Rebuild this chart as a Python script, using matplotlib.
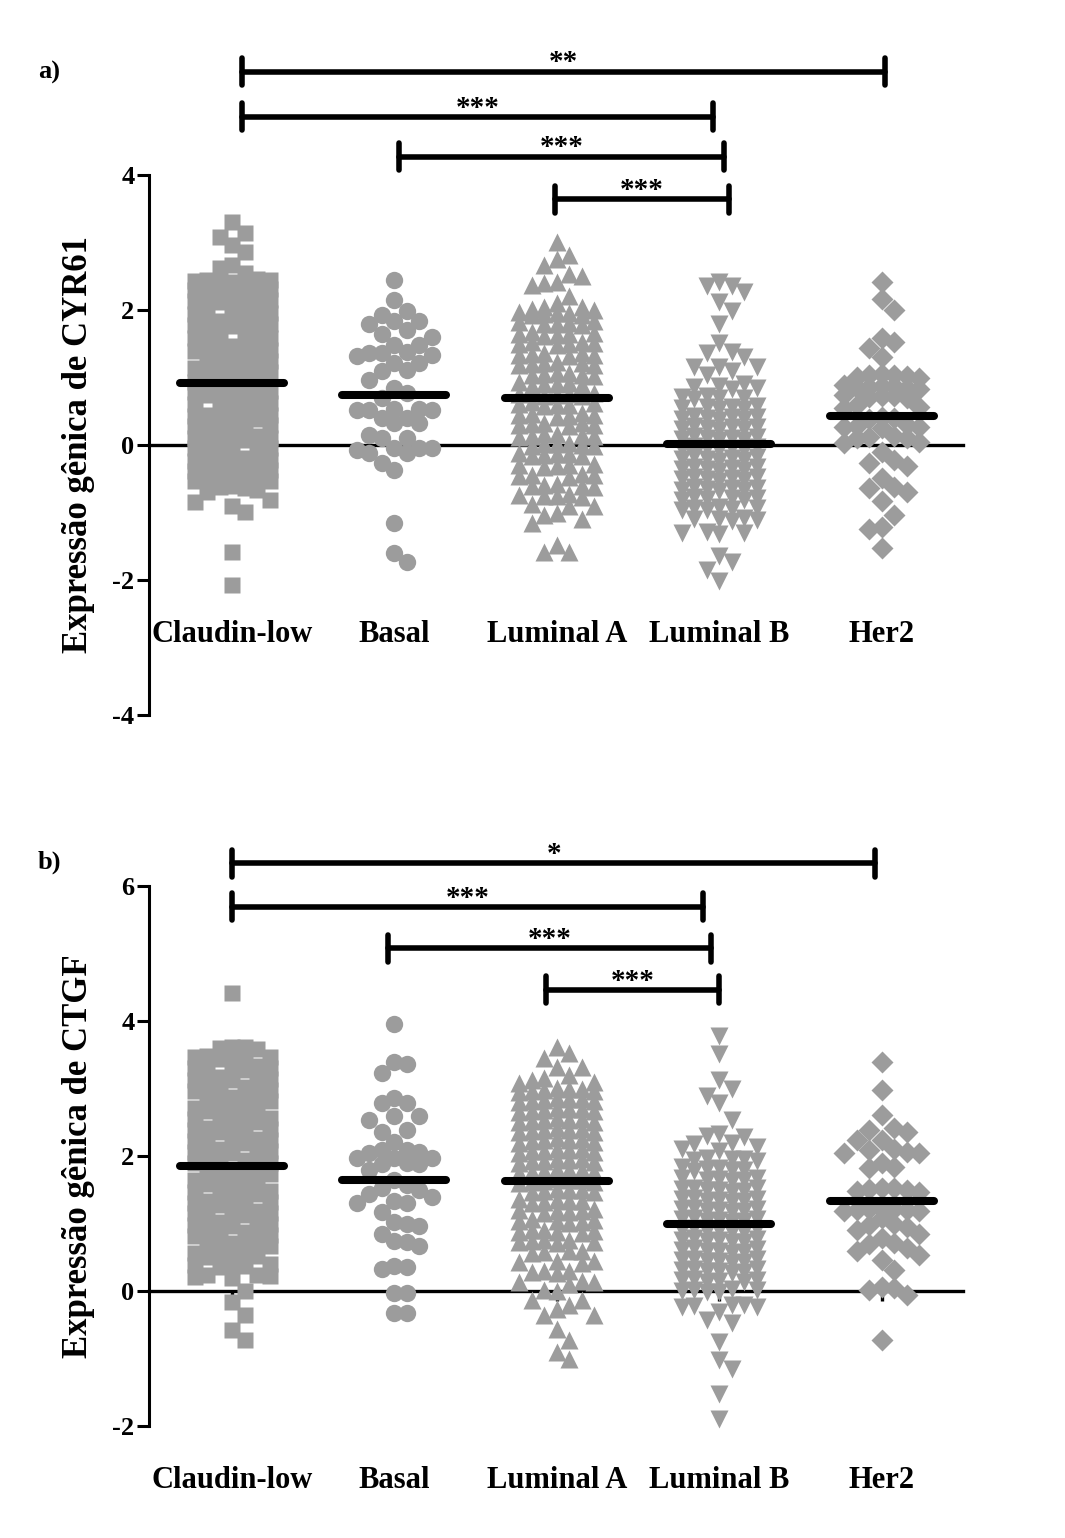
import numpy as np
import matplotlib
matplotlib.use('Agg')
import matplotlib.pyplot as plt
from matplotlib import transforms

plt.rcParams['font.family'] = ['Liberation Serif', 'DejaVu Serif']
plt.rcParams['font.weight'] = 'bold'
plt.rcParams['axes.unicode_minus'] = False

groups = ['Claudin-low', 'Basal', 'Luminal A', 'Luminal B', 'Her2']
markers = ['s', 'o', '^', 'v', 'D']

# CYR61 (panel a)
cyr61_claudin = [
    3.31, 3.14, 3.08, 2.96, 2.86, 2.67, 2.62, 2.55, 2.46,
    2.44, 2.42, 2.45, 2.40, 2.43, 2.39,
    2.31, 2.29, 2.33, 2.27, 2.30, 2.32,
    2.15, 2.17, 2.13, 2.16, 2.12, 2.18, 2.14,
    1.96, 1.94, 1.98, 1.92, 1.95, 1.97,
    1.81, 1.79, 1.83, 1.78, 1.80, 1.82, 1.77,
    1.61, 1.59, 1.63, 1.58, 1.60, 1.62,
    1.44, 1.42, 1.46, 1.41, 1.43, 1.45, 1.40,
    1.27, 1.25, 1.29, 1.24, 1.26, 1.28,
    1.12, 1.10, 1.14, 1.09, 1.11, 1.13, 1.08,
    0.92, 0.90, 0.94, 0.89, 0.91, 0.93,
    0.78, 0.76, 0.80, 0.75, 0.77, 0.79, 0.74,
    0.60, 0.58, 0.62, 0.57, 0.59, 0.61,
    0.43, 0.41, 0.45, 0.40, 0.42, 0.44, 0.39,
    0.28, 0.26, 0.30, 0.25, 0.27, 0.29,
    0.11, 0.09, 0.13, 0.08, 0.10, 0.12, 0.07,
    -0.04, -0.06, -0.02, -0.07, -0.05, -0.03,
    -0.21, -0.23, -0.19, -0.24, -0.22, -0.20, -0.25,
    -0.30, -0.36, -0.38, -0.34, -0.39, -0.37, -0.45,
    -0.51, -0.53, -0.49, -0.54, -0.52, -0.60,
    -0.62, -0.64, -0.66, -0.70, -0.81, -0.85, -0.91, -0.99, -1.58, -2.08]
cyr61_basal = [
    2.44, 2.15, 1.99, 1.93, 1.83, 1.80, 1.83, 1.70, 1.64, 1.60, 1.48, 1.48,
    1.38, 1.36, 1.36, 1.33, 1.32, 1.21, 1.21, 1.11, 1.09, 0.96, 0.84, 0.77,
    0.69, 0.54, 0.54, 0.52, 0.52, 0.52, 0.40, 0.40, 0.33, 0.33, 0.15, 0.11,
    0.11, -0.05, -0.05, -0.05, -0.07, -0.12, -0.12, -0.27, -0.37, -1.15,
    -1.60, -1.74]
cyr61_luma = [
    3.01, 2.81, 2.75, 2.67, 2.54, 2.50, 2.42, 2.37, 2.40, 2.21, 2.11, 2.04,
    2.04, 2.02, 2.00,
    1.95, 1.93, 1.97, 1.94, 1.96, 1.92,
    1.80, 1.82, 1.78, 1.81, 1.79, 1.83,
    1.65, 1.63, 1.67, 1.64, 1.66, 1.62,
    1.50, 1.52, 1.48, 1.51, 1.49, 1.53,
    1.35, 1.33, 1.37, 1.34, 1.36, 1.32,
    1.20, 1.22, 1.18, 1.21, 1.19, 1.23,
    1.05, 1.03, 1.07, 1.04, 1.06, 1.02,
    0.90, 0.92, 0.88, 0.91, 0.89, 0.93,
    0.75, 0.73, 0.77, 0.74, 0.76, 0.72,
    0.60, 0.62, 0.58, 0.61, 0.59, 0.63,
    0.45, 0.43, 0.47, 0.44, 0.46, 0.42,
    0.30, 0.32, 0.28, 0.31, 0.29, 0.33,
    0.15, 0.13, 0.17, 0.14, 0.16, 0.12,
    0.00, 0.02, -0.02, 0.01, -0.01, 0.03,
    -0.15, -0.13, -0.17, -0.14, -0.16, -0.12,
    -0.30, -0.32, -0.28, -0.31, -0.29,
    -0.45, -0.43, -0.47, -0.44, -0.46,
    -0.60, -0.62, -0.58, -0.61, -0.59,
    -0.75, -0.73, -0.77, -0.74, -0.76,
    -0.87, -0.91, -0.91, -1.01, -1.04, -1.09, -1.16, -1.48, -1.58, -1.58]
cyr61_lumb = [
    2.42, 2.36, 2.35, 2.27, 2.12, 1.98, 1.80, 1.51, 1.38, 1.36, 1.31, 1.16,
    1.16, 1.15, 1.09, 1.04, 0.91,
    0.85, 0.87, 0.83, 0.86,
    0.70, 0.72, 0.68, 0.71, 0.69,
    0.55, 0.57, 0.53, 0.56, 0.54, 0.58,
    0.40, 0.42, 0.38, 0.41, 0.39, 0.43, 0.37,
    0.25, 0.27, 0.23, 0.26, 0.24, 0.28, 0.22,
    0.10, 0.12, 0.08, 0.11, 0.09, 0.13, 0.07,
    -0.05, -0.03, -0.07, -0.04, -0.06, -0.02, -0.08,
    -0.20, -0.18, -0.22, -0.19, -0.21, -0.17, -0.23,
    -0.35, -0.33, -0.37, -0.34, -0.36, -0.32, -0.38,
    -0.50, -0.48, -0.52, -0.49, -0.51, -0.47, -0.53,
    -0.65, -0.63, -0.67, -0.64, -0.66, -0.62, -0.68,
    -0.80, -0.78, -0.82, -0.79, -0.81, -0.77,
    -0.95, -0.93, -0.97, -0.94, -0.96, -0.92,
    -1.10, -1.08, -1.12, -1.09, -1.11,
    -1.29, -1.30, -1.31, -1.32, -1.65, -1.73, -1.85, -2.02]
cyr61_her2 = [
    2.42, 2.16, 2.00, 1.58, 1.52, 1.43, 1.31,
    1.03, 1.01, 1.04, 1.02, 1.00, 1.05,
    0.86, 0.88, 0.84, 0.87, 0.85, 0.89, 0.83,
    0.72, 0.74, 0.70, 0.73, 0.71,
    0.57, 0.59, 0.55,
    0.40, 0.42, 0.38,
    0.27, 0.29, 0.25, 0.28, 0.26,
    0.12, 0.14, 0.10, 0.11,
    0.03, 0.05,
    -0.10, -0.22, -0.27, -0.31, -0.49, -0.62, -0.63, -0.70, -0.83, -1.04,
    -1.22, -1.25, -1.52]

# CTGF (panel b)
ctgf_claudin = [
    4.42,
    3.60, 3.62, 3.58, 3.61,
    3.45, 3.47, 3.43, 3.46, 3.44, 3.48,
    3.30, 3.32, 3.28, 3.31, 3.29, 3.33,
    3.14, 3.16, 3.12, 3.15, 3.13, 3.17,
    2.99, 3.01, 2.97, 3.00, 2.98, 3.02,
    2.84, 2.86, 2.82, 2.85, 2.83, 2.87,
    2.68, 2.70, 2.66, 2.69, 2.67, 2.71,
    2.53, 2.55, 2.51, 2.54, 2.52, 2.56,
    2.38, 2.40, 2.36, 2.39, 2.37, 2.41,
    2.22, 2.24, 2.20, 2.23, 2.21, 2.25,
    2.07, 2.09, 2.05, 2.08, 2.06, 2.10,
    1.91, 1.93, 1.89, 1.92, 1.90, 1.94,
    1.76, 1.78, 1.74, 1.77, 1.75, 1.79,
    1.61, 1.63, 1.59, 1.62, 1.60, 1.64,
    1.45, 1.47, 1.43, 1.46, 1.44, 1.48,
    1.30, 1.32, 1.28, 1.31, 1.29, 1.33,
    1.15, 1.17, 1.13, 1.16, 1.14, 1.18,
    0.99, 1.01, 0.97, 1.00, 0.98, 1.02,
    0.84, 0.86, 0.82, 0.85, 0.83, 0.87,
    0.68, 0.70, 0.66, 0.69, 0.67, 0.71,
    0.53, 0.55, 0.51, 0.54, 0.52, 0.56,
    0.38, 0.40, 0.36, 0.39, 0.37,
    0.22, 0.24, 0.20, 0.23, 0.21,
    0.00, -0.16, -0.35, -0.58, -0.72]
ctgf_basal = [
    3.96, 3.40, 3.36, 3.23, 2.78, 2.78, 2.86, 2.59, 2.53, 2.59, 2.36, 2.39,
    2.21, 2.09, 2.09, 2.04, 2.06, 1.97, 1.97, 1.97, 1.89, 1.88, 1.88, 1.79,
    1.64, 1.57, 1.52, 1.40, 1.43, 1.50, 1.30, 1.33, 1.30, 1.17, 1.00, 1.02,
    0.96, 0.85, 0.73, 0.74, 0.67, 0.35, 0.32, 0.37, -0.03, -0.03, -0.32,
    -0.32]
ctgf_luma = [
    3.62, 3.53, 3.45, 3.32, 3.32, 3.20, 3.15, 3.12, 3.10, 3.08,
    2.98, 3.00, 2.96, 2.99, 2.97, 3.01, 2.95,
    2.83, 2.85, 2.81, 2.84, 2.82, 2.86, 2.80,
    2.68, 2.70, 2.66, 2.69, 2.67, 2.71, 2.65,
    2.53, 2.55, 2.51, 2.54, 2.52, 2.56, 2.50,
    2.38, 2.40, 2.36, 2.39, 2.37, 2.41, 2.35,
    2.23, 2.25, 2.21, 2.24, 2.22, 2.26, 2.20,
    2.08, 2.10, 2.06, 2.09, 2.07, 2.11, 2.05,
    1.93, 1.95, 1.91, 1.94, 1.92, 1.96, 1.90,
    1.78, 1.80, 1.76, 1.79, 1.77, 1.81, 1.75,
    1.63, 1.65, 1.61, 1.64, 1.62, 1.66, 1.60,
    1.48, 1.50, 1.46, 1.49, 1.47, 1.51,
    1.33, 1.35, 1.31, 1.34, 1.32, 1.36,
    1.18, 1.20, 1.16, 1.19, 1.17, 1.21,
    1.03, 1.05, 1.01, 1.04, 1.02, 1.06,
    0.88, 0.90, 0.86, 0.89, 0.87, 0.91,
    0.73, 0.75, 0.71, 0.74, 0.72, 0.76,
    0.58, 0.60, 0.56, 0.59,
    0.43, 0.45, 0.41, 0.44,
    0.28, 0.30, 0.26, 0.29,
    0.13, 0.15, 0.11, 0.14,
    0.02, 0.00, -0.13, -0.13, -0.20, -0.26, -0.36, -0.36, -0.57, -0.73,
    -0.91, -1.01]
ctgf_lumb = [
    3.78, 3.51, 3.13, 2.99, 2.89, 2.78, 2.53, 2.32, 2.30, 2.28, 2.20, 2.18,
    2.14, 2.10, 2.08,
    1.95, 1.97, 1.93, 1.96, 1.94,
    1.80, 1.82, 1.78, 1.81, 1.79, 1.83,
    1.65, 1.67, 1.63, 1.66, 1.64, 1.68,
    1.50, 1.52, 1.48, 1.51, 1.49, 1.53, 1.47,
    1.35, 1.37, 1.33, 1.36, 1.34, 1.38, 1.32,
    1.20, 1.22, 1.18, 1.21, 1.19, 1.23, 1.17,
    1.05, 1.07, 1.03, 1.06, 1.04, 1.08, 1.02,
    0.90, 0.92, 0.88, 0.91, 0.89, 0.93, 0.87,
    0.75, 0.77, 0.73, 0.76, 0.74, 0.78, 0.72,
    0.60, 0.62, 0.58, 0.61, 0.59, 0.63, 0.57,
    0.45, 0.47, 0.43, 0.46, 0.44, 0.48, 0.42,
    0.30, 0.32, 0.28, 0.31, 0.29, 0.33, 0.27,
    0.15, 0.17, 0.13, 0.16, 0.14, 0.18,
    0.00, 0.02, -0.02, 0.01, -0.01, 0.03,
    -0.20, -0.21, -0.22, -0.23, -0.24, -0.31, -0.43, -0.48, -0.75, -1.02,
    -1.15, -1.52, -1.89]
ctgf_her2 = [
    3.40, 2.98, 2.61, 2.39, 2.41, 2.36, 2.24, 2.24, 2.09, 2.04, 2.04, 2.10,
    2.06, 1.89, 1.82, 1.83, 1.52, 1.48, 1.51, 1.49, 1.52, 1.47, 1.22, 1.20,
    1.19, 1.22, 1.20, 1.19, 1.21, 0.98, 1.08, 0.95, 1.00, 0.90, 0.85, 0.78,
    0.71, 0.69, 0.64, 0.60, 0.53, 0.46, 0.31, 0.01, 0.06, -0.06, 0.04, -0.73]

# comparisons: (from, to, height, label)
cyr61_sig = [(0.06, 4.02, 5.53, '**'), (0.06, 2.96, 4.86, '***'),
             (1.03, 3.03, 4.27, '***'), (1.99, 3.06, 3.64, '***')]
ctgf_sig = [(0.0, 3.96, 6.34, '*'), (0.0, 2.90, 5.69, '***'),
            (0.96, 2.95, 5.08, '***'), (1.93, 3.00, 4.46, '***')]

GREY = '#9c9c9c'
MSIZE = {'s': 12, 'o': 12.5, '^': 12.5, 'v': 12.5, 'D': 11}


def swarm_offsets(ax, x0, values, step_px=12.5, ncol=3, min_dy=17):
    # graphpad-like column layout, computed in pixel space
    trans = ax.transData
    pts = np.column_stack([np.full(len(values), float(x0)), values])
    ypix = trans.transform(pts)[:, 1]
    px_per_x = trans.transform([[1, 0]])[0, 0] - trans.transform([[0, 0]])[0, 0]
    cand = [0] + [s * k for k in range(1, ncol + 1) for s in (1, -1)]
    cols = {k: [] for k in cand}
    offs = np.zeros(len(values))
    for idx in np.argsort(-ypix, kind='stable'):
        y = ypix[idx]
        best, bestgap = 0, -1.0
        for k in cand:
            gap = min((abs(y - yy) for yy in cols[k]), default=np.inf)
            if gap >= min_dy:
                best = k
                break
            if gap > bestgap:
                best, bestgap = k, gap
        cols[best].append(y)
        offs[idx] = best * step_px / px_per_x
    return offs


def draw_panel(ax, data, ylim, bounds, ticks, ylabel, sig):
    ax.set_xlim(-0.511, 4.5)
    ax.set_ylim(*ylim)
    for side in ('top', 'right'):
        ax.spines[side].set_visible(False)
    ax.spines['left'].set_bounds(*bounds)
    ax.spines['left'].set_linewidth(2.2)
    ax.spines['bottom'].set_position(('data', 0))
    ax.spines['bottom'].set_linewidth(2.4)
    ax.spines['bottom'].set_zorder(1)
    ax.set_yticks(ticks)
    ax.tick_params(axis='y', length=8.5, width=2.2, labelsize=19, pad=2)
    ax.set_xticks(range(len(groups)))
    ax.tick_params(axis='x', direction='out', length=7, width=2.4,
                   labelbottom=False)

    for i, vals in enumerate(data):
        vals = np.asarray(vals)
        offs = swarm_offsets(ax, i, vals)
        ax.plot(i + offs, vals, linestyle='none', marker=markers[i],
                ms=MSIZE[markers[i]], color=GREY, mec='none', zorder=2,
                clip_on=False)
        m = vals.mean()
        ax.plot([i - 0.32, i + 0.32], [m, m], color='black', lw=5.8,
                solid_capstyle='round', zorder=3)
        ax.text(i, -2.8, groups[i], ha='center', va='center', fontsize=22,
                fontweight='bold', clip_on=False)

    for x1, x2, y, lab in sig:
        ax.plot([x1, x2], [y, y], color='black', lw=4,
                solid_capstyle='round', clip_on=False)
        for xx in (x1, x2):
            ax.plot([xx, xx], [y - 0.2, y + 0.2], color='black', lw=4,
                    solid_capstyle='round', clip_on=False)
        ax.text((x1 + x2) / 2, y + 0.02, lab, ha='center', va='baseline',
                fontsize=21, fontweight='bold')

    tr = transforms.blended_transform_factory(ax.transAxes, ax.transData)
    ax.text(-0.087, (bounds[0] + bounds[1]) / 2, ylabel, transform=tr,
            rotation=90, ha='center', va='center', fontsize=25,
            fontweight='bold')


fig = plt.figure(figsize=(10.65, 15.38), dpi=100)
W, H = 1065.0, 1538.0
ax1 = fig.add_axes([149 / W, 1 - 715 / H, 814 / W, 675 / H])
ax2 = fig.add_axes([149 / W, 1 - 1426 / H, 814 / W, 675 / H])

draw_panel(ax1, [cyr61_claudin, cyr61_basal, cyr61_luma, cyr61_lumb, cyr61_her2],
           (-4, 6), (-4, 4), [-4, -2, 0, 2, 4], 'Expressão gênica de CYR61',
           cyr61_sig)
draw_panel(ax2, [ctgf_claudin, ctgf_basal, ctgf_luma, ctgf_lumb, ctgf_her2],
           (-2, 8), (-2, 6), [-2, 0, 2, 4, 6], 'Expressão gênica de CTGF',
           ctgf_sig)

fig.text(38 / W, 1 - 72 / H, 'a)', fontsize=19, fontweight='bold', va='center')
fig.text(38 / W, 1 - 862 / H, 'b)', fontsize=19, fontweight='bold', va='center')

fig.savefig('out.png', dpi=100, facecolor='white')
